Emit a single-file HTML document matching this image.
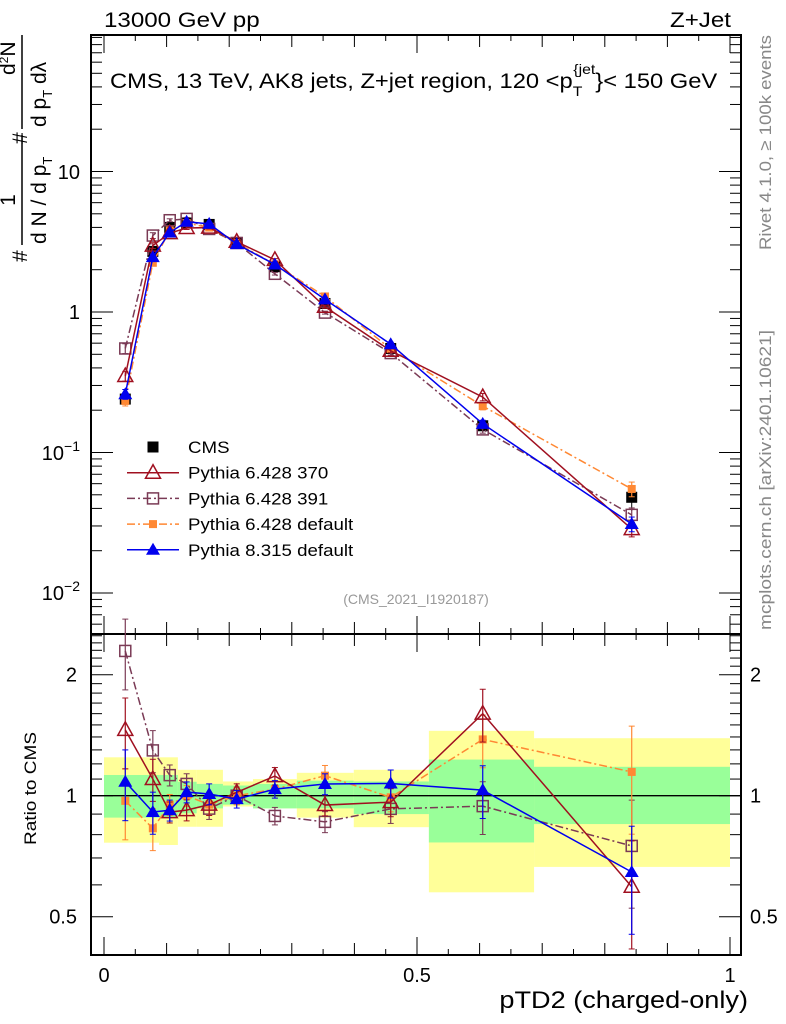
<!DOCTYPE html>
<html><head><meta charset="utf-8"><style>
body{margin:0;background:#fff;}
svg{display:block;font-family:"Liberation Sans",sans-serif;}
</style></head><body>
<svg id="c" width="786" height="1024" viewBox="0 0 786 1024"></svg>
<script>
const xs = [0.034,0.078,0.105,0.132,0.168,0.212,0.273,0.353,0.458,0.605,0.843];
const cms = [0.24,2.7,4.0,4.3,4.2,3.1,2.1,1.15,0.55,0.155,0.048];
const cmsErr = [0.05,0.08,0.05,0.05,0.04,0.04,0.05,0.06,0.07,0.1,0.2];
const p370 = [0.35,2.97,3.64,3.96,3.99,3.16,2.35,1.09,0.53,0.248,0.0285];
const p391 = [0.55,3.5,4.5,4.6,3.9,3.1,1.87,0.99,0.51,0.146,0.036];
const pdef = [0.233,2.24,3.8,4.3,3.99,3.1,2.18,1.29,0.545,0.214,0.055];
const p8 = [0.26,2.46,3.68,4.39,4.24,3.04,2.18,1.23,0.59,0.16,0.031];
const mcErr = [0.2,0.12,0.06,0.06,0.06,0.05,0.05,0.06,0.08,0.15,0.3];
const binEdges = [0,0.088,0.118,0.148,0.19,0.238,0.308,0.399,0.519,0.687,1.0];
const yelHi = [1.246,1.246,1.16,1.16,1.085,1.1,1.14,1.16,1.45,1.39];
const yelLo = [0.764,0.754,0.837,0.837,0.94,0.93,0.882,0.835,0.575,0.665];
const grnHi = [1.126,1.126,1.083,1.07,1.06,1.07,1.09,1.085,1.23,1.18];
const grnLo = [0.882,0.882,0.904,0.93,0.95,0.93,0.93,0.9,0.765,0.85];
const xTicks = ["0","0.5","1"];

const svg=document.getElementById('c');
const NS='http://www.w3.org/2000/svg';
function mk(t,a,p){const e=document.createElementNS(NS,t);for(const k in a)e.setAttribute(k,a[k]);(p||svg).appendChild(e);return e;}
const L=91,R=741,T=35,MB=634,RB=955;
const X=v=>104+v*626;
const Y=v=>312-140.5*Math.log10(v);
const RY=v=>795.7-121*Math.log2(v);

const gB=mk('g',{});


for(let i=0;i<yelHi.length;i++){
  const r=mk('rect',{x:X(binEdges[i]),y:RY(yelHi[i]),width:X(binEdges[i+1])-X(binEdges[i]),height:RY(yelLo[i])-RY(yelHi[i]),fill:'#ffff99'},gB);
  
  
}
for(let i=0;i<grnHi.length;i++){
  const r=mk('rect',{x:X(binEdges[i]),y:RY(grnHi[i]),width:X(binEdges[i+1])-X(binEdges[i]),height:RY(grnLo[i])-RY(grnHi[i]),fill:'#99ff99'},gB);
  
  
}
mk('line',{x1:L,x2:R,y1:RY(1),y2:RY(1),stroke:'#000','stroke-width':1.3});

mk('rect',{x:L,y:T,width:R-L,height:MB-T,fill:'none',stroke:'#000','stroke-width':2});
mk('rect',{x:L,y:MB,width:R-L,height:RB-MB,fill:'none',stroke:'#000','stroke-width':2});

for(let k=0;k<=20;k++){const v=k*0.05;const len=k%10==0?18:(k%2==0?12:6);const px=X(v);
  for(const [yb,dir] of [[MB,-1],[T,1],[RB,-1],[MB,1]]) mk('line',{x1:px,x2:px,y1:yb,y2:yb+dir*len,stroke:'#000','stroke-width':1});}
xTicks.forEach((t,i)=>{const e=mk('text',{x:X(i*0.5),y:982,'font-size':20,'text-anchor':'middle'});e.textContent=t;});
for(let d=-3;d<=1;d++)for(let m=1;m<10;m++){const v=m*Math.pow(10,d);const py=Y(v);if(py<T||py>MB)continue;const len=m==1?22:11;
  mk('line',{x1:L,x2:L+len,y1:py,y2:py,stroke:'#000'});mk('line',{x1:R,x2:R-len,y1:py,y2:py,stroke:'#000'});}
[['10',172],['1',312]].forEach(([t,y])=>{const e=mk('text',{x:80,y:y+7,'font-size':20,'text-anchor':'end'});e.textContent=t;});
[['−1',453],['−2',593]].forEach(([t,y])=>{const e=mk('text',{x:80,y:y+7,'font-size':20,'text-anchor':'end'});e.innerHTML='10<tspan dy="-9" font-size="14">'+t+'</tspan>';});
for(let k=0;k<30;k++){const v=0.4+k*0.1;if(v>2.5)break;const py=RY(v);if(py<MB||py>RB)continue;const maj=[0.5,1,2].some(q=>Math.abs(q-v)<1e-6);const len=maj?22:11;
  mk('line',{x1:L,x2:L+len,y1:py,y2:py,stroke:'#000'});mk('line',{x1:R,x2:R-len,y1:py,y2:py,stroke:'#000'});}
[['2',2],['1',1],['0.5',0.5]].forEach(([t,v])=>{for(const [x,a] of [[77,'end'],[750,'start']]){const e=mk('text',{x:x,y:RY(v)+7,'font-size':20,'text-anchor':a});e.textContent=t;}});

function txt(s,a,name){const e=mk('text',a);e.textContent=s;return e;}
txt('13000 GeV pp',{x:0,y:0,'font-size':21,transform:'translate(104,27) scale(1.15,1)'},'energy-label');
txt('Z+Jet',{x:0,y:0,'font-size':21,'text-anchor':'end',transform:'translate(731,27) scale(1.15,1)'},'process-label');
const tt=mk('text',{x:0,y:0,'font-size':21,transform:'translate(110,88) scale(1.13,1)'});tt.innerHTML='CMS, 13 TeV, AK8 jets, Z+jet region, 120 &lt;p<tspan dy="8" font-size="14">T</tspan><tspan dy="-22" dx="-8" font-size="14">{jet</tspan><tspan dy="14">}&lt; 150 GeV</tspan>';

txt('(CMS_2021_I1920187)',{x:416,y:604,'font-size':14,fill:'#999','text-anchor':'middle'},'analysis-id');
txt('Ratio to CMS',{x:0,y:0,'font-size':17,textLength:113,lengthAdjust:'spacingAndGlyphs',transform:'translate(36,845) rotate(-90)'},'ratio-y-title');
txt('pTD2 (charged-only)',{x:0,y:0,'font-size':24,'text-anchor':'end',transform:'translate(748,1008) scale(1.13,1)'},'x-axis-title');
txt('Rivet 4.1.0, ≥ 100k events',{x:0,y:0,'font-size':17,fill:'#888',textLength:215,lengthAdjust:'spacingAndGlyphs',transform:'translate(771,250) rotate(-90)'},'rivet-label');
txt('mcplots.cern.ch [arXiv:2401.10621]',{x:0,y:0,'font-size':17,fill:'#888',textLength:300,lengthAdjust:'spacingAndGlyphs',transform:'translate(771,630) rotate(-90)'},'mcplots-label');

const yt=mk('g',{transform:'translate(0,262) rotate(-90)'});
mk('text',{x:0,y:27,'font-size':21},yt).textContent='#';
mk('line',{x1:17,x2:127,y1:22,y2:22,stroke:'#000','stroke-width':1.5},yt);
mk('text',{x:62,y:15,'font-size':21,'text-anchor':'middle'},yt).textContent='1';
const d1=mk('text',{x:18,y:46,'font-size':21},yt);d1.innerHTML='d N / d p<tspan dy="6" font-size="13">T</tspan>';
mk('text',{x:118,y:27,'font-size':21},yt).textContent='#';
mk('line',{x1:133,x2:227,y1:22,y2:22,stroke:'#000','stroke-width':1.5},yt);
const n2=mk('text',{x:187,y:15,'font-size':21},yt);n2.innerHTML='d<tspan dy="-7" font-size="12">2</tspan><tspan dy="7">N</tspan>';
const d2=mk('text',{x:135,y:46,'font-size':21},yt);d2.innerHTML='d p<tspan dy="6" font-size="13">T</tspan><tspan dy="-6"> dλ</tspan>';

function marker(g,type,x,y,col){
  if(type=='sq') return mk('rect',{x:x-5.5,y:y-5.5,width:11,height:11,fill:col},g);
  if(type=='osq') return mk('rect',{x:x-5.5,y:y-5.5,width:11,height:11,fill:'#fff','fill-opacity':0,stroke:col,'stroke-width':1.5},g);
  if(type=='ssq') return mk('rect',{x:x-4,y:y-4,width:8,height:8,fill:col},g);
  if(type=='tri') return mk('polygon',{points:`${x},${y-7} ${x-7},${y+5} ${x+7},${y+5}`,fill:col},g);
  if(type=='otri') return mk('polygon',{points:`${x},${y-8} ${x-7.5},${y+5.5} ${x+7.5},${y+5.5}`,fill:'none',stroke:col,'stroke-width':1.5},g);
}
const series=[
 {n:'pythia-6428-391',d:p391,c:'#7a3a55',m:'osq',dash:'8,3,2,3'},
 {n:'pythia-6428-default',d:pdef,c:'#ff8833',m:'ssq',dash:'8,3,2,3'},
 {n:'pythia-6428-370',d:p370,c:'#a01020',m:'otri',dash:''},
 {n:'pythia-8315-default',d:p8,c:'#0000ee',m:'tri',dash:''}
];
const gc=mk('g',{});
xs.forEach((x,i)=>{const v=cms[i],e=cmsErr[i]*v;mk('line',{x1:X(x),x2:X(x),y1:Y(v+e),y2:Y(v-e),stroke:'#000'},gc);
  const m=marker(gc,'sq',X(x),Y(v),'#000');});
series.forEach(s=>{
  for(const panel of ['main','ratio']){
    const g=mk('g',{});
    
    
    const val=i=>panel=='main'?s.d[i]:s.d[i]/cms[i];
    const fy=panel=='main'?Y:RY;
    const ef=panel=='main'?0.4:1;
    mk('polyline',{points:xs.map((x,i)=>X(x)+','+fy(val(i))).join(' '),fill:'none',stroke:s.c,'stroke-width':1.5,'stroke-dasharray':s.dash},g);
    xs.forEach((x,i)=>{const v=val(i),e=mcErr[i]*ef*v;const y1=fy(v+e),y2=fy(Math.max(v-e,0.01));
      mk('line',{x1:X(x),x2:X(x),y1:y1,y2:y2,stroke:s.c,'stroke-width':1.2},g);
      mk('line',{x1:X(x)-3,x2:X(x)+3,y1:y1,y2:y1,stroke:s.c},g);mk('line',{x1:X(x)-3,x2:X(x)+3,y1:y2,y2:y2,stroke:s.c},g);
      const m=marker(g,s.m,X(x),fy(v),s.c);});
  }
});
const leg=[['CMS','#000','sq',''],['Pythia 6.428 370','#a01020','otri',''],['Pythia 6.428 391','#7a3a55','osq','8,3,2,3'],['Pythia 6.428 default','#ff8833','ssq','8,3,2,3'],['Pythia 8.315 default','#0000ee','tri','']];
leg.forEach((l,i)=>{const y=447+i*25.7;const g=mk('g',{});
  if(i>0)mk('line',{x1:127,x2:179,y1:y,y2:y,stroke:l[1],'stroke-width':1.5,'stroke-dasharray':l[3]},g);
  marker(g,l[2],153,y,l[1]);
  const t=mk('text',{x:0,y:0,'font-size':17,transform:`translate(188,${y+6}) scale(1.1,1)`},g);t.textContent=l[0];});
</script>
</body></html>
